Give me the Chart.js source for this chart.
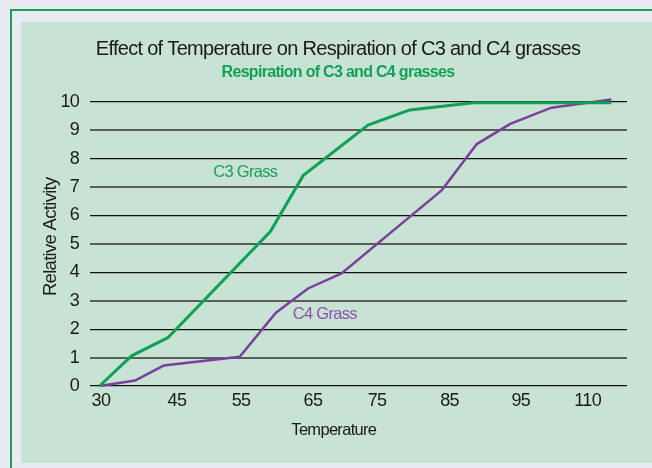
<!DOCTYPE html>
<html>
<head>
<meta charset="utf-8">
<title>Respiration of C3 and C4 grasses</title>
<script src="https://cdn.jsdelivr.net/npm/chart.js"></script>
<style>
  html, body { margin: 0; padding: 0; }
  body { width: 652px; height: 468px; background: #e9ebf3; position: relative; overflow: hidden; }
  #marco { position: absolute; left: 10px; top: 9px; width: 700px; height: 500px; border: 2px solid #12a354; }
  #panel { position: absolute; left: 21px; top: 22px; right: 0; height: 441px; background: #c8e3d4; }
  #grafico { position: absolute; left: 0; top: 0; }
</style>
</head>
<body>
<div id="marco"></div>
<div id="panel"></div>
<canvas id="grafico" width="652" height="468"></canvas>
<script>
// temperaturas del eje x (el dibujo original no tiene espaciado lineal)
const temperaturas = ['30', '45', '55', '65', '75', '85', '95', '110']
const posTemp = [0.02, 1.11, 2.03, 3.06, 3.98, 5.02, 6.04, 7.0]

// C3 grass
const c3x = [0, 0.46, 0.98, 2.45, 2.92, 3.85, 4.45, 5.36, 7.34]
const c3y = [0, 1.06, 1.70, 5.43, 7.40, 9.18, 9.71, 9.96, 9.96]

// C4 grass
const c4x = [0, 0.51, 0.92, 2.01, 2.53, 2.99, 3.47, 4.91, 5.41, 5.89, 6.48, 7.34]
const c4y = [0, 0.19, 0.72, 1.03, 2.58, 3.43, 3.96, 6.89, 8.51, 9.22, 9.79, 10.08]

// no hay letra condensada instalada, se aprieta un poco la Liberation Sans
const fuente = "'Liberation Sans', Arial, sans-serif"
const verde = '#10a056'
const morado = '#7b3f9f'
const negro = '#1a1a1a'

// nombres de las curvas dentro del grafico
const notas = [
    { texto: 'C3 Grass', x: 2.09, y: 7.5, color: '#1a9d5c' },
    { texto: 'C4 Grass', x: 3.23, y: 2.52, color: '#8a52ab' }
]

const apretar = {
    id: 'apretar',
    beforeDraw(chart) {
        chart.ctx.letterSpacing = '-0.7px'
    }
}

// textos de los ejes y de las curvas (el original no los centra en el eje)
const etiquetas = {
    id: 'etiquetas',
    afterDatasetsDraw(chart) {
        const { ctx, chartArea, scales: { x, y } } = chart
        ctx.save()
        ctx.textAlign = 'center'
        ctx.textBaseline = 'middle'
        ctx.font = `16.5px ${fuente}`
        for (const n of notas) {
            ctx.fillStyle = n.color
            ctx.fillText(n.texto, x.getPixelForValue(n.x), y.getPixelForValue(n.y))
        }
        ctx.fillStyle = negro
        ctx.fillText('Temperature', x.getPixelForValue(3.36), chartArea.bottom + 44)
        ctx.font = `18.5px ${fuente}`
        ctx.translate(chartArea.left - 39.5, y.getPixelForValue(5.25))
        ctx.rotate(-Math.PI / 2)
        ctx.fillText('Relative Activity', 0, 0)
        ctx.restore()
    }
}

const ctx = document.getElementById('grafico').getContext('2d')
const myChart = new Chart(ctx, {
    type: 'line',
    data: {
        datasets: [{
            label: 'C3 Grass',
            data: c3x.map((v, i) => ({ x: v, y: c3y[i] })),
            borderColor: verde,
            borderWidth: 3,
            pointRadius: 0,
            tension: 0,
            clip: false
        },
        {
            label: 'C4 Grass',
            data: c4x.map((v, i) => ({ x: v, y: c4y[i] })),
            borderColor: morado,
            borderWidth: 2.5,
            pointRadius: 0,
            tension: 0,
            clip: false
        }]
    },
    options: {
        responsive: false,
        animation: false,
        layout: { padding: { left: 49, right: 25, top: 0, bottom: 0 } },
        plugins: {
            legend: { display: false },
            tooltip: { enabled: false },
            title: {
                display: true,
                text: 'Effect of Temperature on Respiration of C3 and C4 grasses',
                color: negro,
                font: { family: fuente, size: 20, weight: 'normal' },
                padding: { top: 37.5, bottom: 0 }
            },
            subtitle: {
                display: true,
                text: 'Respiration of C3 and C4 grasses',
                color: verde,
                font: { family: fuente, size: 16, weight: 'bold' },
                padding: { top: 1.2, bottom: 19.8 }
            }
        },
        scales: {
            x: {
                type: 'linear',
                min: -0.136,
                max: 7.564,
                afterBuildTicks: s => { s.ticks = posTemp.map(v => ({ value: v })) },
                afterFit: s => { s.height = 82 },
                grid: { display: false, drawTicks: false },
                border: { display: false },
                ticks: {
                    color: negro,
                    font: { family: fuente, size: 18 },
                    padding: 4.2,
                    maxRotation: 0,
                    callback: (v, i) => temperaturas[i]
                }
            },
            y: {
                min: 0,
                max: 10,
                afterFit: s => { s.width = 41 },
                border: { display: false },
                grid: {
                    drawTicks: false,
                    color: c => c.tick.value % 2 ? '#5c5c5c' : '#111111',
                    lineWidth: c => c.tick.value % 2 ? 2 : 1.2
                },
                ticks: {
                    stepSize: 1,
                    color: negro,
                    font: { family: fuente, size: 18 },
                    padding: 11
                }
            }
        }
    },
    plugins: [apretar, etiquetas]
})
</script>
</body>
</html>
